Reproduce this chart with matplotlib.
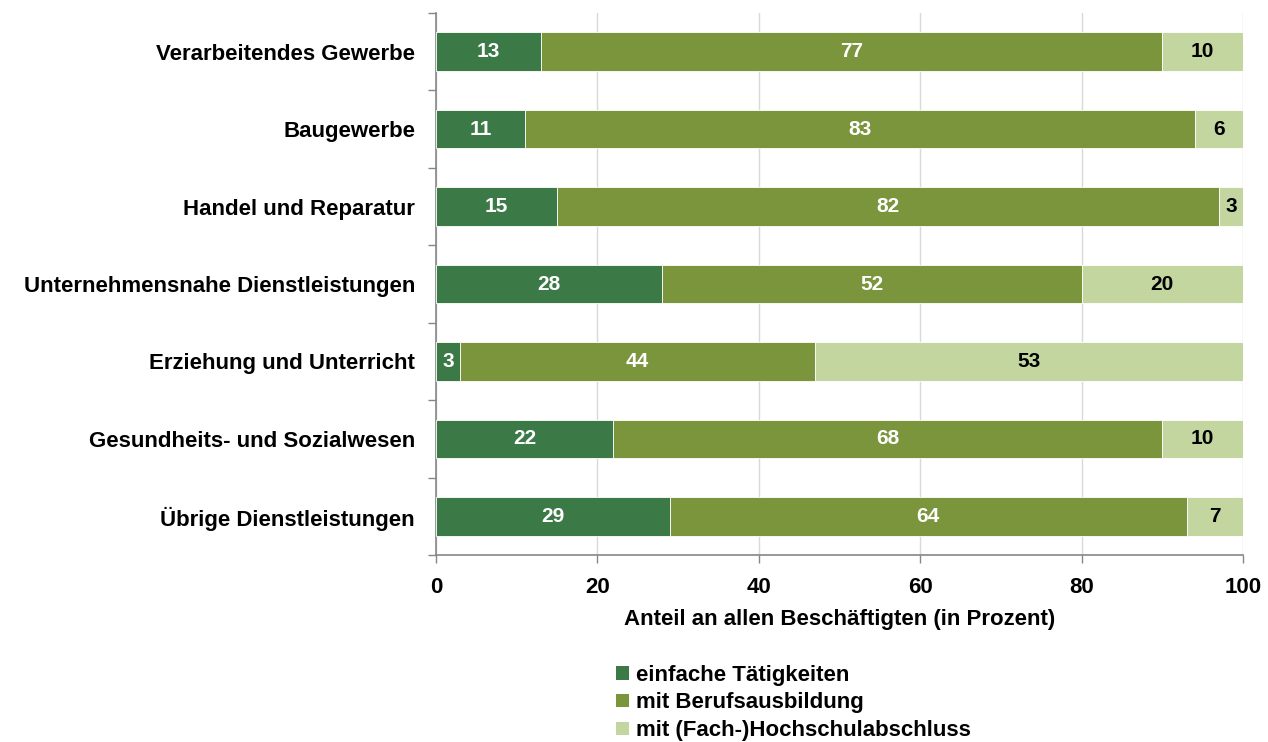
import numpy as np
import matplotlib.pyplot as plt
from matplotlib.patches import Patch

plt.rcParams['font.family'] = ['Liberation Sans', 'DejaVu Sans']

branchen = [
    'Verarbeitendes Gewerbe',
    'Baugewerbe',
    'Handel und Reparatur',
    'Unternehmensnahe Dienstleistungen',
    'Erziehung und Unterricht',
    'Gesundheits- und Sozialwesen',
    'Übrige Dienstleistungen',
]
einfach = [13, 11, 15, 28, 3, 22, 29]
beruf = [77, 83, 82, 52, 44, 68, 64]
hochschule = [10, 6, 3, 20, 53, 10, 7]

serien = ['einfache Tätigkeiten', 'mit Berufsausbildung', 'mit (Fach-)Hochschulabschluss']
farben = ['#3B7946', '#7A953C', '#C4D6A0']
textfarben = ['white', 'white', 'black']

fs = 16

fig = plt.figure(figsize=(12.68, 7.42), dpi=100)
ax = fig.add_axes([0.3438, 0.252, 0.6365, 0.7305])

y = np.arange(len(branchen))
links = np.zeros(len(branchen))
for werte, farbe, tf in zip([einfach, beruf, hochschule], farben, textfarben):
    werte = np.array(werte, dtype=float)
    bars = ax.barh(y, werte, left=links, height=0.5, color=farbe, edgecolor='white', linewidth=0.6, zorder=3)
    for b, w in zip(bars, werte):
        ax.text(b.get_x() + b.get_width() / 2, b.get_y() + b.get_height() / 2, f'{w:.0f}',
                ha='center', va='center', color=tf, fontsize=15, fontweight='bold', zorder=4)
    links += werte

ax.set_xlim(0, 100)
ax.set_ylim(len(branchen) - 0.5, -0.5)
ax.set_xticks([0, 20, 40, 60, 80, 100])
ax.set_xticklabels(['0', '20', '40', '60', '80', '100'], fontsize=fs, fontweight='bold')
ax.xaxis.grid(True, color='#D9D9D9', linewidth=1, zorder=0)
ax.set_axisbelow(True)

ax.set_yticks(y)
ax.set_yticklabels(branchen, fontsize=fs, fontweight='bold')
ax.tick_params(axis='y', length=0, pad=15)
ax.set_yticks(np.arange(-0.5, len(branchen)), minor=True)
ax.tick_params(axis='y', which='minor', length=6, color='#868686', width=1)
ax.tick_params(axis='x', length=6, color='#868686', width=1, pad=10)

for s in ['top', 'right']:
    ax.spines[s].set_visible(False)
for s in ['left', 'bottom']:
    ax.spines[s].set_color('#868686')
    ax.spines[s].set_linewidth(1.2)

ax.set_xlabel('Anteil an allen Beschäftigten (in Prozent)', fontsize=fs, fontweight='bold', labelpad=8)

handles = [Patch(facecolor=f, edgecolor='none') for f in farben]
fig.legend(handles, serien, loc='center', bbox_to_anchor=(0.626, 0.0526), frameon=False,
           prop={'size': fs, 'weight': 'bold'}, handlelength=0.55, handleheight=0.55,
           handletextpad=0.35, labelspacing=0.3, borderpad=0)

fig.savefig('out.png', dpi=100)
